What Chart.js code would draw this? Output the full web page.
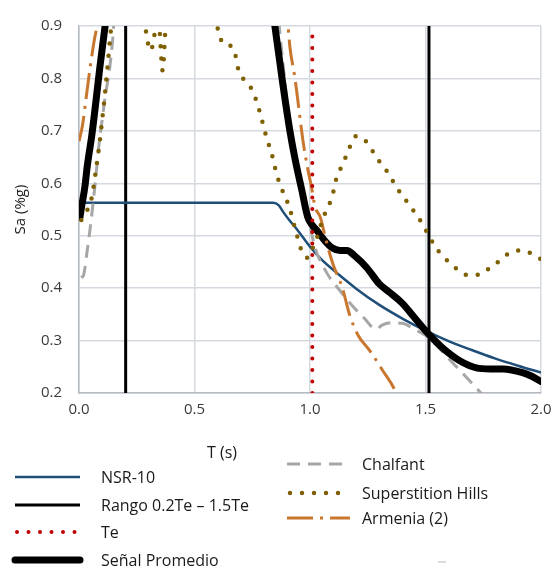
<!DOCTYPE html>
<html>
<head>
<meta charset="utf-8">
<script src="https://cdn.jsdelivr.net/npm/chart.js@4"></script>
<style>
  html, body { margin: 0; padding: 0; background: #fff; }
  #wrap { position: relative; width: 560px; height: 573px; overflow: hidden; font-family: "Open Sans", sans-serif; }
  #chart { position: absolute; left: 0; top: 0; }
  #keys { position: absolute; left: 0; top: 0; }
  .lbl { position: absolute; font-size: 16px; color: #1a1a1a; white-space: nowrap; line-height: 20px; transform: translateY(-50%); }
</style>
</head>
<body>
<div id="wrap">
  <canvas id="chart" width="560" height="430"></canvas>
  <svg id="keys" width="560" height="573"></svg>
</div>
<script>
// Spectral acceleration Sa (%g) versus period T (s)

// NSR-10 design spectrum
const nsrT  = [0.025, 0.84, 0.865, 0.883, 0.91, 0.944, 1.0, 1.056, 1.1, 1.2, 1.3, 1.4, 1.5, 1.6, 1.7, 1.8, 1.9, 2.0];
const nsrSa = [0.563, 0.563, 0.558, 0.546, 0.53, 0.512, 0.479, 0.452, 0.435, 0.399, 0.368, 0.342, 0.319, 0.299, 0.282, 0.266, 0.252, 0.239];

// Period of the structure and the 0.2Te – 1.5Te range
const te = 1.01;
const rangoT = [0.202, 1.515];
const saLimits = [0.2, 0.9];

// Average of the scaled records
const promT  = [0.004, 0.013, 0.026, 0.035, 0.043, 0.055, 0.069, 0.09, 0.113, 0.13, 0.83, 0.848, 0.879, 0.913, 0.935, 0.965, 0.99, 1.01, 1.03, 1.065, 1.095, 1.13, 1.16, 1.19, 1.246, 1.3, 1.35, 1.4, 1.45, 1.506, 1.576, 1.65, 1.72, 1.78, 1.835, 1.92, 1.96, 2.0];
const promSa = [0.535, 0.56, 0.595, 0.63, 0.655, 0.69, 0.74, 0.82, 0.9, 0.96, 0.96, 0.9, 0.8, 0.7, 0.647, 0.586, 0.536, 0.52, 0.51, 0.49, 0.477, 0.472, 0.472, 0.463, 0.439, 0.408, 0.39, 0.371, 0.345, 0.316, 0.285, 0.261, 0.248, 0.246, 0.246, 0.239, 0.232, 0.222];

// Chalfant record
const chalT  = [0.01, 0.02, 0.035, 0.05, 0.07, 0.087, 0.1, 0.115, 0.13, 0.145, 0.16, 0.85, 0.88, 0.91, 0.94, 0.97, 1.0, 1.02, 1.069, 1.13, 1.186, 1.24, 1.27, 1.29, 1.31, 1.35, 1.4, 1.45, 1.5, 1.55, 1.6, 1.69, 1.76];
const chalSa = [0.42, 0.425, 0.47, 0.52, 0.6, 0.675, 0.72, 0.77, 0.81, 0.87, 0.95, 0.95, 0.84, 0.72, 0.64, 0.58, 0.52, 0.48, 0.432, 0.395, 0.365, 0.34, 0.325, 0.322, 0.329, 0.334, 0.333, 0.322, 0.31, 0.29, 0.266, 0.224, 0.19];

// Superstition Hills record
const supT  = [0.01, 0.03, 0.05, 0.06, 0.07, 0.078, 0.09, 0.1, 0.11, 0.125, 0.14, 0.16, 0.27, 0.286, 0.31, 0.335, 0.345, 0.362, 0.375, 0.39, 0.58, 0.597, 0.61, 0.62, 0.635, 0.65, 0.675, 0.684, 0.697, 0.727, 0.753, 0.78, 0.81, 0.835, 0.857, 0.879, 0.913, 0.935, 0.948, 0.965, 0.99, 1.01, 1.03, 1.056, 1.078, 1.095, 1.117, 1.14, 1.16, 1.2, 1.247, 1.273, 1.303, 1.333, 1.381, 1.411, 1.442, 1.468, 1.489, 1.515, 1.541, 1.571, 1.606, 1.641, 1.684, 1.736, 1.779, 1.814, 1.853, 1.9, 1.944, 2.0];
const supSa = [0.53, 0.545, 0.563, 0.585, 0.615, 0.64, 0.68, 0.72, 0.76, 0.83, 0.9, 0.96, 0.95, 0.9, 0.853, 0.9, 0.905, 0.815, 0.9, 0.96, 0.93, 0.9, 0.882, 0.868, 0.866, 0.864, 0.849, 0.827, 0.809, 0.792, 0.775, 0.74, 0.69, 0.655, 0.615, 0.588, 0.551, 0.514, 0.494, 0.47, 0.458, 0.475, 0.496, 0.533, 0.555, 0.573, 0.614, 0.634, 0.656, 0.69, 0.678, 0.66, 0.64, 0.623, 0.588, 0.57, 0.551, 0.536, 0.52, 0.5, 0.48, 0.463, 0.448, 0.435, 0.425, 0.426, 0.439, 0.45, 0.464, 0.472, 0.469, 0.455];

// Armenia record (2)
const armT  = [0.0, 0.015, 0.03, 0.048, 0.065, 0.08, 0.1, 0.89, 0.905, 0.913, 0.935, 0.97, 0.99, 1.007, 1.022, 1.045, 1.07, 1.1, 1.139, 1.173, 1.208, 1.26, 1.316, 1.368, 1.39];
const armSa = [0.68, 0.71, 0.76, 0.82, 0.87, 0.905, 0.97, 0.97, 0.9, 0.86, 0.8, 0.68, 0.628, 0.592, 0.555, 0.535, 0.49, 0.445, 0.402, 0.347, 0.31, 0.28, 0.242, 0.205, 0.18];

const xTicks = { min: 0, max: 2, step: 0.5 };
const yTicks = { min: 0.2, max: 0.9, step: 0.1 };

const pts = (xs, ys) => xs.map((x, i) => ({ x: x, y: ys[i] }));
const vertical = (xs) => {
  const out = [];
  xs.forEach((x, i) => {
    if (i > 0) out.push({ x: x, y: null });
    out.push({ x: x, y: saLimits[0] }, { x: x, y: saLimits[1] });
  });
  return out;
};

const series = [
  { label: 'NSR-10', data: pts(nsrT, nsrSa), color: '#1f4e79', width: 2.5, dash: [], cap: 'butt', order: 5, curve: true },
  { label: 'Rango 0.2Te \u2013 1.5Te', data: vertical(rangoT), color: '#000000', width: 3, dash: [], cap: 'butt', order: 7, curve: false },
  { label: 'Te', data: vertical([te]), color: '#c00000', width: 4, dash: [0, 11.5], cap: 'round', order: 0, curve: false },
  { label: 'Se\u00f1al Promedio', data: pts(promT, promSa), color: '#000000', width: 7, dash: [], cap: 'round', order: 3, curve: true },
  { label: 'Chalfant', data: pts(chalT, chalSa), color: '#a6a6a6', width: 3, dash: [13, 8], cap: 'butt', order: 4, curve: true },
  { label: 'Superstition Hills', data: pts(supT, supSa), color: '#7f6000', width: 4.5, dash: [0, 12], cap: 'round', order: 1, curve: true },
  { label: 'Armenia (2)', data: pts(armT, armSa), color: '#c9772f', width: 3, dash: [26, 7, 3, 7], cap: 'butt', order: 2, curve: true }
];

const tickFont = { family: '"Open Sans", sans-serif', size: 15 };
const tickColor = '#3a3a3a';
const gridStyle = { color: '#d5d9e0', lineWidth: 1.5, drawTicks: false };
const borderStyle = { color: '#b5b9c0', width: 1.5 };

new Chart(document.getElementById('chart'), {
  type: 'line',
  data: {
    datasets: series.map(s => ({
      label: s.label,
      data: s.data,
      borderColor: s.color,
      backgroundColor: s.color,
      borderWidth: s.width,
      borderDash: s.dash,
      borderCapStyle: s.cap,
      borderJoinStyle: 'round',
      cubicInterpolationMode: s.curve ? 'monotone' : 'default',
      tension: 0,
      pointRadius: 0,
      fill: false,
      spanGaps: false,
      clip: 0,
      order: s.order
    }))
  },
  options: {
    responsive: false,
    animation: false,
    layout: { padding: { top: 12, right: 19, left: 0, bottom: 0 } },
    elements: { line: { capBezierPoints: false }, point: { radius: 0 } },
    plugins: { legend: { display: false }, tooltip: { enabled: false } },
    scales: {
      x: {
        type: 'linear',
        min: xTicks.min, max: xTicks.max,
        afterFit: (s) => { s.height = 37; },
        ticks: { stepSize: xTicks.step, padding: 8, color: tickColor, font: tickFont, maxRotation: 0,
                 callback: (v) => Number(v).toFixed(1) },
        grid: gridStyle,
        border: borderStyle
      },
      y: {
        type: 'linear',
        min: yTicks.min, max: yTicks.max,
        afterFit: (s) => { s.width = 79; },
        ticks: { stepSize: yTicks.step, padding: 17, color: tickColor, font: tickFont,
                 callback: (v) => Number(v).toFixed(1) },
        grid: gridStyle,
        border: borderStyle,
        title: { display: true, text: 'Sa (%g)', color: '#1a1a1a', font: tickFont, padding: { top: 12, bottom: 0 } }
      }
    }
  }
});

// Legend below the plot, two columns
const wrap = document.getElementById('wrap');
const keys = document.getElementById('keys');
const NS = 'http://www.w3.org/2000/svg';
const legendSlots = [
  { x1: 15, x2: 80, tx: 101, y: 477 },
  { x1: 15, x2: 80, tx: 101, y: 505 },
  { x1: 17, x2: 75, tx: 101, y: 532 },
  { x1: 15, x2: 80, tx: 101, y: 560 },
  { x1: 287, x2: 350, tx: 362, y: 464 },
  { x1: 290, x2: 350, tx: 362, y: 493 },
  { x1: 287, x2: 350, tx: 362, y: 518 }
];
series.forEach((s, i) => {
  const slot = legendSlots[i];
  const ln = document.createElementNS(NS, 'line');
  ln.setAttribute('x1', slot.x1); ln.setAttribute('x2', slot.x2);
  ln.setAttribute('y1', slot.y); ln.setAttribute('y2', slot.y);
  ln.setAttribute('stroke', s.color);
  ln.setAttribute('stroke-width', s.width);
  ln.setAttribute('stroke-linecap', s.cap === 'round' ? 'round' : 'butt');
  if (s.dash.length) ln.setAttribute('stroke-dasharray', s.dash.join(' '));
  keys.appendChild(ln);
  const t = document.createElement('div');
  t.className = 'lbl';
  t.style.left = slot.tx + 'px';
  t.style.top = slot.y + 'px';
  t.textContent = s.label;
  wrap.appendChild(t);
});

// Horizontal axis title
const xt = document.createElement('div');
xt.className = 'lbl';
xt.style.left = '222px';
xt.style.top = '452px';
xt.style.transform = 'translate(-50%, -50%)';
xt.textContent = 'T (s)';
wrap.appendChild(xt);

// Faint leftover key mark
const stub = document.createElementNS(NS, 'line');
stub.setAttribute('x1', 438); stub.setAttribute('x2', 446);
stub.setAttribute('y1', 562); stub.setAttribute('y2', 562);
stub.setAttribute('stroke', '#d0d0d0'); stub.setAttribute('stroke-width', 1.5);
keys.appendChild(stub);
</script>
</body>
</html>
